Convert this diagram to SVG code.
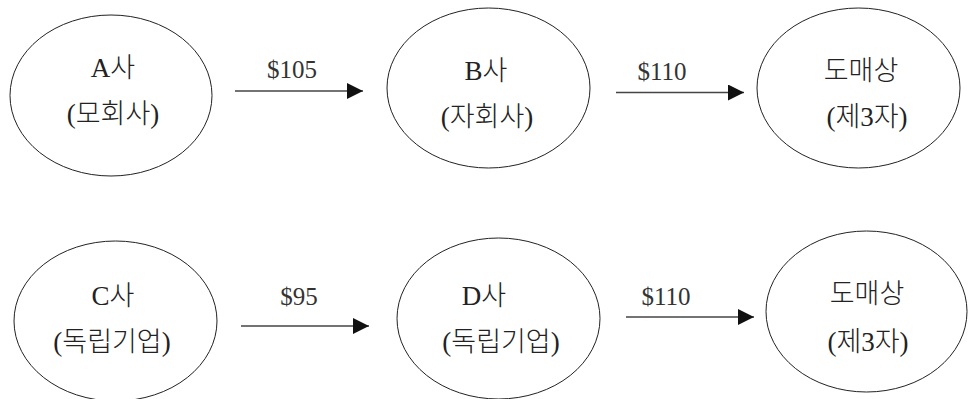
<svg xmlns="http://www.w3.org/2000/svg" width="969" height="399" viewBox="0 0 969 399">
<style>
.node ellipse{fill:#fff;stroke:#222;stroke-width:1}
.t{font-family:'Liberation Serif','Times New Roman',serif;font-size:27px;fill:#222;text-anchor:middle}
.k{font-family:'Noto Sans CJK KR','Noto Sans CJK SC',sans-serif;font-weight:300}
.lbl{font-family:'Liberation Serif','Times New Roman',serif;font-size:25px;fill:#333;text-anchor:middle}
.edge{stroke:#444;stroke-width:1.4;fill:none;marker-end:url(#ah)}
</style>
<defs>
<marker id="ah" markerUnits="userSpaceOnUse" markerWidth="17" markerHeight="17" refX="16" refY="8" orient="auto">
<path d="M0,0 L16,8 L0,16 Z" fill="#111"/>
</marker>
</defs>
<rect width="969" height="399" fill="#fff"/>
<g id="nodeA" class="node">
<ellipse cx="111" cy="95.5" rx="101" ry="80.5"/>
<text class="t" x="113" y="77">A<tspan class="k">사</tspan></text>
<text class="t" x="113" y="123">(<tspan class="k">모회사</tspan>)</text>
</g>
<g id="nodeB" class="node">
<ellipse cx="488.5" cy="88" rx="101.5" ry="80"/>
<text class="t" x="486" y="80">B<tspan class="k">사</tspan></text>
<text class="t" x="487" y="126">(<tspan class="k">자회사</tspan>)</text>
</g>
<g id="nodeW1" class="node">
<ellipse cx="858.5" cy="88" rx="101.5" ry="80"/>
<text class="t" x="861" y="80"><tspan class="k">도매상</tspan></text>
<text class="t" x="867" y="126">(<tspan class="k">제</tspan>3<tspan class="k">자</tspan>)</text>
</g>
<g id="nodeC" class="node">
<ellipse cx="115.5" cy="321" rx="101.5" ry="80"/>
<text class="t" x="113" y="305">C<tspan class="k">사</tspan></text>
<text class="t" x="112" y="351">(<tspan class="k">독립기업</tspan>)</text>
</g>
<g id="nodeD" class="node">
<ellipse cx="498.5" cy="318.5" rx="101.5" ry="80.5"/>
<text class="t" x="484" y="305">D<tspan class="k">사</tspan></text>
<text class="t" x="501" y="351">(<tspan class="k">독립기업</tspan>)</text>
</g>
<g id="nodeW2" class="node">
<ellipse cx="866.5" cy="311.5" rx="100.5" ry="80.5"/>
<text class="t" x="867" y="303"><tspan class="k">도매상</tspan></text>
<text class="t" x="868" y="351">(<tspan class="k">제</tspan>3<tspan class="k">자</tspan>)</text>
</g>
<g id="connectors">
<line class="edge" x1="235" y1="91" x2="363" y2="91"/>
<line class="edge" x1="616" y1="92.5" x2="744" y2="92.5"/>
<line class="edge" x1="241" y1="326" x2="369" y2="326"/>
<line class="edge" x1="626" y1="317" x2="754" y2="317"/>
<text class="lbl" x="292" y="78">$105</text>
<text class="lbl" x="662" y="80">$110</text>
<text class="lbl" x="299" y="305">$95</text>
<text class="lbl" x="666" y="305">$110</text>
</g>
</svg>
